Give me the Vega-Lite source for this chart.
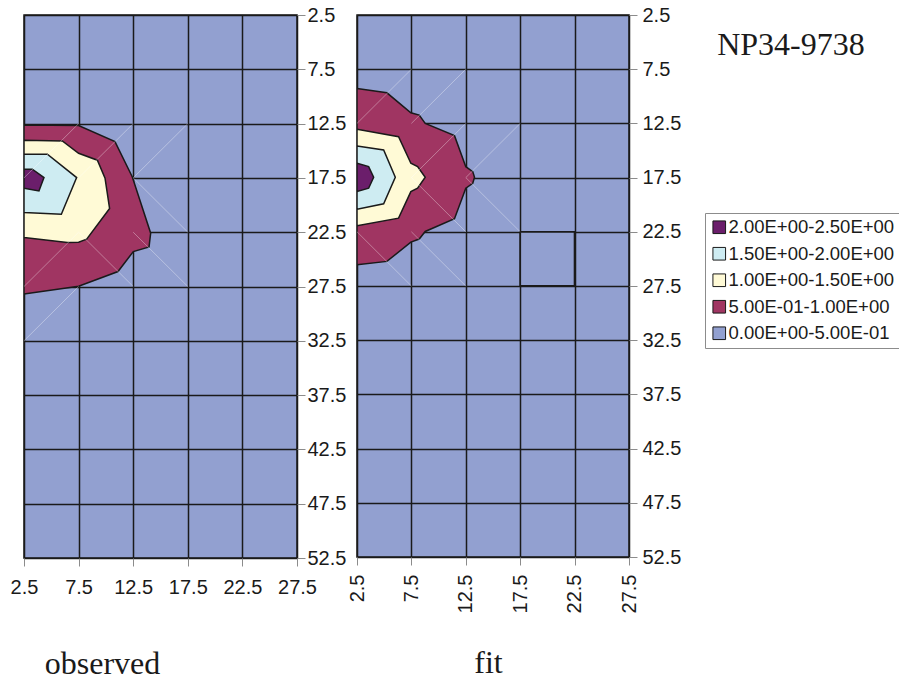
{
  "$schema": "https://vega.github.io/schema/vega-lite/v6.json",
  "autosize": {"type": "pad"},
  "padding": {"left": 9, "top": 4, "right": 0, "bottom": 0},
  "background": "white",
  "bounds": "flush",
  "spacing": 60,
  "datasets": {
    "poly": [
      {"id": "o1", "band": "5.00E-01-1.00E+00", "i": 0, "x": 2.5, "y": 12.62},
      {"id": "o1", "band": "5.00E-01-1.00E+00", "i": 1, "x": 7.5, "y": 12.68},
      {"id": "o1", "band": "5.00E-01-1.00E+00", "i": 2, "x": 10.83, "y": 14.16},
      {"id": "o1", "band": "5.00E-01-1.00E+00", "i": 3, "x": 12.42, "y": 17.41},
      {"id": "o1", "band": "5.00E-01-1.00E+00", "i": 4, "x": 14.1, "y": 22.59},
      {"id": "o1", "band": "5.00E-01-1.00E+00", "i": 5, "x": 13.95, "y": 23.85},
      {"id": "o1", "band": "5.00E-01-1.00E+00", "i": 6, "x": 12.51, "y": 24.28},
      {"id": "o1", "band": "5.00E-01-1.00E+00", "i": 7, "x": 11.11, "y": 26.12},
      {"id": "o1", "band": "5.00E-01-1.00E+00", "i": 8, "x": 7.5, "y": 27.47},
      {"id": "o1", "band": "5.00E-01-1.00E+00", "i": 9, "x": 2.5, "y": 28.2},
      {"id": "o2", "band": "1.00E+00-1.50E+00", "i": 0, "x": 2.5, "y": 14.03},
      {"id": "o2", "band": "1.00E+00-1.50E+00", "i": 1, "x": 6.01, "y": 14.1},
      {"id": "o2", "band": "1.00E+00-1.50E+00", "i": 2, "x": 7.5, "y": 15.23},
      {"id": "o2", "band": "1.00E+00-1.50E+00", "i": 3, "x": 9.22, "y": 15.87},
      {"id": "o2", "band": "1.00E+00-1.50E+00", "i": 4, "x": 9.92, "y": 17.53},
      {"id": "o2", "band": "1.00E+00-1.50E+00", "i": 5, "x": 10.34, "y": 20.32},
      {"id": "o2", "band": "1.00E+00-1.50E+00", "i": 6, "x": 8.24, "y": 23.14},
      {"id": "o2", "band": "1.00E+00-1.50E+00", "i": 7, "x": 7.5, "y": 23.42},
      {"id": "o2", "band": "1.00E+00-1.50E+00", "i": 8, "x": 6.47, "y": 23.45},
      {"id": "o2", "band": "1.00E+00-1.50E+00", "i": 9, "x": 2.5, "y": 22.99},
      {"id": "o3", "band": "1.50E+00-2.00E+00", "i": 0, "x": 2.5, "y": 15.32},
      {"id": "o3", "band": "1.50E+00-2.00E+00", "i": 1, "x": 4.64, "y": 15.32},
      {"id": "o3", "band": "1.50E+00-2.00E+00", "i": 2, "x": 7.32, "y": 17.47},
      {"id": "o3", "band": "1.50E+00-2.00E+00", "i": 3, "x": 5.92, "y": 20.84},
      {"id": "o3", "band": "1.50E+00-2.00E+00", "i": 4, "x": 2.5, "y": 20.69},
      {"id": "o4", "band": "2.00E+00-2.50E+00", "i": 0, "x": 2.5, "y": 16.7},
      {"id": "o4", "band": "2.00E+00-2.50E+00", "i": 1, "x": 3.26, "y": 16.7},
      {"id": "o4", "band": "2.00E+00-2.50E+00", "i": 2, "x": 4.33, "y": 17.47},
      {"id": "o4", "band": "2.00E+00-2.50E+00", "i": 3, "x": 3.87, "y": 18.7},
      {"id": "o4", "band": "2.00E+00-2.50E+00", "i": 4, "x": 2.5, "y": 18.45},
      {"id": "f0", "band": "0.00E+00-5.00E-01", "i": 0, "x": 17.5, "y": 22.5},
      {"id": "f0", "band": "0.00E+00-5.00E-01", "i": 1, "x": 22.5, "y": 22.5},
      {"id": "f0", "band": "0.00E+00-5.00E-01", "i": 2, "x": 22.5, "y": 27.5},
      {"id": "f0", "band": "0.00E+00-5.00E-01", "i": 3, "x": 17.5, "y": 27.5},
      {"id": "f1", "band": "5.00E-01-1.00E+00", "i": 0, "x": 2.5, "y": 9.28},
      {"id": "f1", "band": "5.00E-01-1.00E+00", "i": 1, "x": 5.25, "y": 9.68},
      {"id": "f1", "band": "5.00E-01-1.00E+00", "i": 2, "x": 7.45, "y": 11.52},
      {"id": "f1", "band": "5.00E-01-1.00E+00", "i": 3, "x": 8.22, "y": 11.73},
      {"id": "f1", "band": "5.00E-01-1.00E+00", "i": 4, "x": 8.77, "y": 12.5},
      {"id": "f1", "band": "5.00E-01-1.00E+00", "i": 5, "x": 11.46, "y": 13.63},
      {"id": "f1", "band": "5.00E-01-1.00E+00", "i": 6, "x": 12.5, "y": 16.49},
      {"id": "f1", "band": "5.00E-01-1.00E+00", "i": 7, "x": 13.14, "y": 16.95},
      {"id": "f1", "band": "5.00E-01-1.00E+00", "i": 8, "x": 13.3, "y": 17.47},
      {"id": "f1", "band": "5.00E-01-1.00E+00", "i": 9, "x": 13.14, "y": 18.02},
      {"id": "f1", "band": "5.00E-01-1.00E+00", "i": 10, "x": 12.5, "y": 18.48},
      {"id": "f1", "band": "5.00E-01-1.00E+00", "i": 11, "x": 11.46, "y": 21.3},
      {"id": "f1", "band": "5.00E-01-1.00E+00", "i": 12, "x": 8.77, "y": 22.47},
      {"id": "f1", "band": "5.00E-01-1.00E+00", "i": 13, "x": 8.22, "y": 23.17},
      {"id": "f1", "band": "5.00E-01-1.00E+00", "i": 14, "x": 7.45, "y": 23.45},
      {"id": "f1", "band": "5.00E-01-1.00E+00", "i": 15, "x": 5.25, "y": 25.23},
      {"id": "f1", "band": "5.00E-01-1.00E+00", "i": 16, "x": 2.5, "y": 25.54},
      {"id": "f2", "band": "1.00E+00-1.50E+00", "i": 0, "x": 2.5, "y": 13.05},
      {"id": "f2", "band": "1.00E+00-1.50E+00", "i": 1, "x": 6.32, "y": 13.73},
      {"id": "f2", "band": "1.00E+00-1.50E+00", "i": 2, "x": 7.45, "y": 16.18},
      {"id": "f2", "band": "1.00E+00-1.50E+00", "i": 3, "x": 8.07, "y": 16.49},
      {"id": "f2", "band": "1.00E+00-1.50E+00", "i": 4, "x": 8.77, "y": 17.47},
      {"id": "f2", "band": "1.00E+00-1.50E+00", "i": 5, "x": 8.07, "y": 18.48},
      {"id": "f2", "band": "1.00E+00-1.50E+00", "i": 6, "x": 7.45, "y": 18.79},
      {"id": "f2", "band": "1.00E+00-1.50E+00", "i": 7, "x": 6.32, "y": 21.24},
      {"id": "f2", "band": "1.00E+00-1.50E+00", "i": 8, "x": 2.5, "y": 21.95},
      {"id": "f3", "band": "1.50E+00-2.00E+00", "i": 0, "x": 2.5, "y": 14.59},
      {"id": "f3", "band": "1.50E+00-2.00E+00", "i": 1, "x": 4.95, "y": 14.95},
      {"id": "f3", "band": "1.50E+00-2.00E+00", "i": 2, "x": 6.02, "y": 17.47},
      {"id": "f3", "band": "1.50E+00-2.00E+00", "i": 3, "x": 4.95, "y": 19.92},
      {"id": "f3", "band": "1.50E+00-2.00E+00", "i": 4, "x": 2.5, "y": 20.41},
      {"id": "f4", "band": "2.00E+00-2.50E+00", "i": 0, "x": 2.5, "y": 16.18},
      {"id": "f4", "band": "2.00E+00-2.50E+00", "i": 1, "x": 3.57, "y": 16.49},
      {"id": "f4", "band": "2.00E+00-2.50E+00", "i": 2, "x": 4.03, "y": 17.47},
      {"id": "f4", "band": "2.00E+00-2.50E+00", "i": 3, "x": 3.57, "y": 18.48},
      {"id": "f4", "band": "2.00E+00-2.50E+00", "i": 4, "x": 2.5, "y": 18.79}
    ],
    "seams": [
      {"panel": "observed", "x": 2.5, "y": 17.5, "x2": 7.5, "y2": 12.5},
      {"panel": "observed", "x": 7.5, "y": 17.5, "x2": 12.5, "y2": 12.5},
      {"panel": "observed", "x": 12.5, "y": 17.5, "x2": 17.5, "y2": 12.5},
      {"panel": "observed", "x": 12.5, "y": 17.5, "x2": 17.5, "y2": 22.5},
      {"panel": "observed", "x": 12.5, "y": 22.5, "x2": 17.5, "y2": 27.5},
      {"panel": "observed", "x": 7.5, "y": 22.5, "x2": 12.5, "y2": 27.5},
      {"panel": "observed", "x": 2.5, "y": 27.5, "x2": 7.5, "y2": 22.5},
      {"panel": "observed", "x": 2.5, "y": 32.5, "x2": 7.5, "y2": 27.5},
      {"panel": "fit", "x": 2.5, "y": 12.5, "x2": 7.5, "y2": 7.5},
      {"panel": "fit", "x": 7.5, "y": 12.5, "x2": 12.5, "y2": 7.5},
      {"panel": "fit", "x": 7.5, "y": 17.5, "x2": 12.5, "y2": 12.5},
      {"panel": "fit", "x": 12.5, "y": 17.5, "x2": 17.5, "y2": 12.5},
      {"panel": "fit", "x": 12.5, "y": 17.5, "x2": 17.5, "y2": 22.5},
      {"panel": "fit", "x": 7.5, "y": 17.5, "x2": 12.5, "y2": 22.5},
      {"panel": "fit", "x": 2.5, "y": 22.5, "x2": 7.5, "y2": 27.5},
      {"panel": "fit", "x": 7.5, "y": 22.5, "x2": 12.5, "y2": 27.5}
    ],
    "label": [
      {"label": "NP34-9738", "x": 35.6, "y": 6.2}
    ]
  },
  "hconcat": [
    {
      "width": 273,
      "height": 543,
      "encoding": {
        "x": {"field": "x", "type": "quantitative", "scale": {"domain": [2.5, 27.5], "nice": false, "zero": false},
          "axis": {"values": [2.5, 7.5, 12.5, 17.5, 22.5, 27.5], "format": ".1f", "labelAngle": 0, "labelPadding": 11, "title": "observed", "titleX": 78, "titleY": 115, "titleAlign": "center", "titleBaseline": "alphabetic", "titleAngle": 0}},
        "y": {"field": "y", "type": "quantitative", "scale": {"domain": [2.5, 52.5], "nice": false, "zero": false, "reverse": true},
          "axis": {"orient": "right", "values": [2.5, 7.5, 12.5, 17.5, 22.5, 27.5, 32.5, 37.5, 42.5, 47.5, 52.5], "format": ".1f", "labelPadding": 2, "title": null}}
      },
      "layer": [
        {"data": {"name": "poly"}, "transform": [{"filter": {"field": "id", "equal": "o1"}}],
          "mark": {"type": "line", "interpolate": "linear-closed", "stroke": "#1a1a1a", "strokeWidth": 1.5, "clip": true},
          "encoding": {"order": {"field": "i", "type": "quantitative"}, "detail": {"field": "id"},
            "fill": {"field": "band", "type": "nominal", "scale": {"domain": ["2.00E+00-2.50E+00", "1.50E+00-2.00E+00", "1.00E+00-1.50E+00", "5.00E-01-1.00E+00", "0.00E+00-5.00E-01"], "range": ["#6B1E6B", "#CEECF2", "#FFFAD6", "#A03562", "#92A0D0"]}, "legend": {"orient": "none", "legendX": 681, "legendY": 198, "title": null}}}},
        {"data": {"name": "poly"}, "transform": [{"filter": {"field": "id", "equal": "o2"}}],
          "mark": {"type": "line", "interpolate": "linear-closed", "stroke": "#1a1a1a", "strokeWidth": 1.5, "clip": true},
          "encoding": {"order": {"field": "i", "type": "quantitative"}, "detail": {"field": "id"},
            "fill": {"field": "band", "type": "nominal", "scale": {"domain": ["2.00E+00-2.50E+00", "1.50E+00-2.00E+00", "1.00E+00-1.50E+00", "5.00E-01-1.00E+00", "0.00E+00-5.00E-01"], "range": ["#6B1E6B", "#CEECF2", "#FFFAD6", "#A03562", "#92A0D0"]}, "legend": {"orient": "none", "legendX": 681, "legendY": 198, "title": null}}}},
        {"data": {"name": "poly"}, "transform": [{"filter": {"field": "id", "equal": "o3"}}],
          "mark": {"type": "line", "interpolate": "linear-closed", "stroke": "#1a1a1a", "strokeWidth": 1.5, "clip": true},
          "encoding": {"order": {"field": "i", "type": "quantitative"}, "detail": {"field": "id"},
            "fill": {"field": "band", "type": "nominal", "scale": {"domain": ["2.00E+00-2.50E+00", "1.50E+00-2.00E+00", "1.00E+00-1.50E+00", "5.00E-01-1.00E+00", "0.00E+00-5.00E-01"], "range": ["#6B1E6B", "#CEECF2", "#FFFAD6", "#A03562", "#92A0D0"]}, "legend": {"orient": "none", "legendX": 681, "legendY": 198, "title": null}}}},
        {"data": {"name": "poly"}, "transform": [{"filter": {"field": "id", "equal": "o4"}}],
          "mark": {"type": "line", "interpolate": "linear-closed", "stroke": "#1a1a1a", "strokeWidth": 1.5, "clip": true},
          "encoding": {"order": {"field": "i", "type": "quantitative"}, "detail": {"field": "id"},
            "fill": {"field": "band", "type": "nominal", "scale": {"domain": ["2.00E+00-2.50E+00", "1.50E+00-2.00E+00", "1.00E+00-1.50E+00", "5.00E-01-1.00E+00", "0.00E+00-5.00E-01"], "range": ["#6B1E6B", "#CEECF2", "#FFFAD6", "#A03562", "#92A0D0"]}, "legend": {"orient": "none", "legendX": 681, "legendY": 198, "title": null}}}},
        {"data": {"name": "seams"}, "transform": [{"filter": {"field": "panel", "equal": "observed"}}],
          "mark": {"type": "rule", "color": "#ffffff", "opacity": 0.35, "strokeWidth": 1, "clip": true},
          "encoding": {"x2": {"field": "x2"}, "y2": {"field": "y2"}}}
      ]
    },
    {
      "width": 272,
      "height": 542,
      "encoding": {
        "x": {"field": "x", "type": "quantitative", "scale": {"domain": [2.5, 27.5], "nice": false, "zero": false},
          "axis": {"values": [2.5, 7.5, 12.5, 17.5, 22.5, 27.5], "format": ".1f", "labelAngle": -90, "labelPadding": 9, "title": "fit", "titleX": 131, "titleY": 115, "titleAlign": "center", "titleBaseline": "alphabetic", "titleAngle": 0}},
        "y": {"field": "y", "type": "quantitative", "scale": {"domain": [2.5, 52.5], "nice": false, "zero": false, "reverse": true},
          "axis": {"orient": "right", "values": [2.5, 7.5, 12.5, 17.5, 22.5, 27.5, 32.5, 37.5, 42.5, 47.5, 52.5], "format": ".1f", "labelPadding": 5, "title": null}}
      },
      "layer": [
        {"data": {"name": "poly"}, "transform": [{"filter": {"field": "id", "equal": "f0"}}],
          "mark": {"type": "line", "interpolate": "linear-closed", "stroke": "#1a1a1a", "strokeWidth": 1.8, "clip": true},
          "encoding": {"order": {"field": "i", "type": "quantitative"}, "detail": {"field": "id"},
            "fill": {"field": "band", "type": "nominal", "scale": {"domain": ["2.00E+00-2.50E+00", "1.50E+00-2.00E+00", "1.00E+00-1.50E+00", "5.00E-01-1.00E+00", "0.00E+00-5.00E-01"], "range": ["#6B1E6B", "#CEECF2", "#FFFAD6", "#A03562", "#92A0D0"]}, "legend": {"orient": "none", "legendX": 681, "legendY": 198, "title": null}}}},
        {"data": {"name": "poly"}, "transform": [{"filter": {"field": "id", "equal": "f1"}}],
          "mark": {"type": "line", "interpolate": "linear-closed", "stroke": "#1a1a1a", "strokeWidth": 1.5, "clip": true},
          "encoding": {"order": {"field": "i", "type": "quantitative"}, "detail": {"field": "id"},
            "fill": {"field": "band", "type": "nominal", "scale": {"domain": ["2.00E+00-2.50E+00", "1.50E+00-2.00E+00", "1.00E+00-1.50E+00", "5.00E-01-1.00E+00", "0.00E+00-5.00E-01"], "range": ["#6B1E6B", "#CEECF2", "#FFFAD6", "#A03562", "#92A0D0"]}, "legend": {"orient": "none", "legendX": 681, "legendY": 198, "title": null}}}},
        {"data": {"name": "poly"}, "transform": [{"filter": {"field": "id", "equal": "f2"}}],
          "mark": {"type": "line", "interpolate": "linear-closed", "stroke": "#1a1a1a", "strokeWidth": 1.5, "clip": true},
          "encoding": {"order": {"field": "i", "type": "quantitative"}, "detail": {"field": "id"},
            "fill": {"field": "band", "type": "nominal", "scale": {"domain": ["2.00E+00-2.50E+00", "1.50E+00-2.00E+00", "1.00E+00-1.50E+00", "5.00E-01-1.00E+00", "0.00E+00-5.00E-01"], "range": ["#6B1E6B", "#CEECF2", "#FFFAD6", "#A03562", "#92A0D0"]}, "legend": {"orient": "none", "legendX": 681, "legendY": 198, "title": null}}}},
        {"data": {"name": "poly"}, "transform": [{"filter": {"field": "id", "equal": "f3"}}],
          "mark": {"type": "line", "interpolate": "linear-closed", "stroke": "#1a1a1a", "strokeWidth": 1.5, "clip": true},
          "encoding": {"order": {"field": "i", "type": "quantitative"}, "detail": {"field": "id"},
            "fill": {"field": "band", "type": "nominal", "scale": {"domain": ["2.00E+00-2.50E+00", "1.50E+00-2.00E+00", "1.00E+00-1.50E+00", "5.00E-01-1.00E+00", "0.00E+00-5.00E-01"], "range": ["#6B1E6B", "#CEECF2", "#FFFAD6", "#A03562", "#92A0D0"]}, "legend": {"orient": "none", "legendX": 681, "legendY": 198, "title": null}}}},
        {"data": {"name": "poly"}, "transform": [{"filter": {"field": "id", "equal": "f4"}}],
          "mark": {"type": "line", "interpolate": "linear-closed", "stroke": "#1a1a1a", "strokeWidth": 1.5, "clip": true},
          "encoding": {"order": {"field": "i", "type": "quantitative"}, "detail": {"field": "id"},
            "fill": {"field": "band", "type": "nominal", "scale": {"domain": ["2.00E+00-2.50E+00", "1.50E+00-2.00E+00", "1.00E+00-1.50E+00", "5.00E-01-1.00E+00", "0.00E+00-5.00E-01"], "range": ["#6B1E6B", "#CEECF2", "#FFFAD6", "#A03562", "#92A0D0"]}, "legend": {"orient": "none", "legendX": 681, "legendY": 198, "title": null}}}},
        {"data": {"name": "seams"}, "transform": [{"filter": {"field": "panel", "equal": "fit"}}],
          "mark": {"type": "rule", "color": "#ffffff", "opacity": 0.35, "strokeWidth": 1, "clip": true},
          "encoding": {"x2": {"field": "x2"}, "y2": {"field": "y2"}}},
        {"data": {"name": "label"},
          "mark": {"type": "text", "font": "Liberation Serif", "fontSize": 32, "align": "left", "baseline": "alphabetic", "color": "#1a1a1a"},
          "encoding": {"text": {"field": "label"}}}
      ]
    }
  ],
  "config": {
    "view": {"fill": "#92A0D0", "stroke": "#1a1a1a", "strokeWidth": 1.5},
    "axis": {"labelFont": "Liberation Sans", "labelFontSize": 20, "labelColor": "#1a1a1a", "tickColor": "#8c8c8c", "tickSize": 8, "tickWidth": 1, "domain": false, "grid": true, "gridColor": "#1a1a1a", "gridWidth": 1.5, "gridOpacity": 1, "zindex": 1, "labelFlush": false, "labelOverlap": false, "labelBound": false, "titleFont": "Liberation Serif", "titleFontSize": 32, "titleFontWeight": "normal", "titleColor": "#1a1a1a"},
    "legend": {"symbolType": "square", "symbolSize": 160, "symbolStrokeColor": "#1a1a1a", "symbolStrokeWidth": 1, "symbolOpacity": 1, "labelFont": "Liberation Sans", "labelFontSize": 18.5, "labelColor": "#1a1a1a", "labelOffset": 0, "labelLimit": 400, "rowPadding": 7.5, "padding": 5, "strokeColor": "#8c8c8c"}
  }
}
